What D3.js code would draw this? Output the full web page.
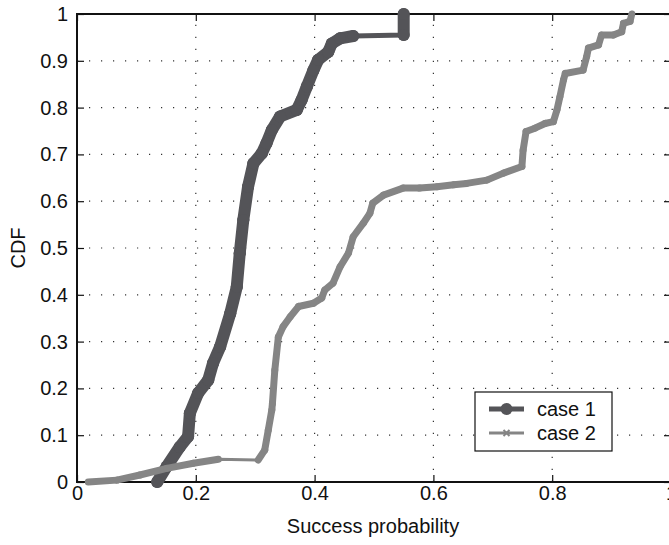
<!DOCTYPE html>
<html>
<head>
<meta charset="utf-8">
<script src="https://cdn.jsdelivr.net/npm/d3@7"></script>
<style>
  body { margin: 0; background: #fff; }
  svg text { font-family: "Liberation Sans", Arial, Helvetica, sans-serif; }
</style>
</head>
<body>
<div id="chart"></div>
<script>
// series values
let case1X = [0.135, 0.151, 0.173, 0.187, 0.190, 0.204, 0.221, 0.229, 0.241, 0.258,
  0.269, 0.274, 0.280, 0.288, 0.297, 0.311, 0.319, 0.328, 0.342, 0.370,
  0.378, 0.387, 0.398, 0.406, 0.423, 0.429, 0.443, 0.465, 0.550, 0.550];
let case1Y = [0.000, 0.033, 0.075, 0.097, 0.147, 0.190, 0.218, 0.254, 0.289, 0.360,
  0.417, 0.489, 0.560, 0.631, 0.681, 0.702, 0.724, 0.752, 0.781, 0.795,
  0.816, 0.845, 0.880, 0.902, 0.919, 0.937, 0.948, 0.953, 0.955, 1.000];

let case2X = [0.019, 0.067, 0.106, 0.151, 0.196, 0.238, 0.305, 0.316, 0.322, 0.328,
  0.329, 0.333, 0.339, 0.347, 0.359, 0.373, 0.398, 0.412, 0.417, 0.431,
  0.443, 0.457, 0.465, 0.482, 0.493, 0.498, 0.516, 0.549, 0.577, 0.606,
  0.634, 0.656, 0.690, 0.718, 0.749, 0.751, 0.756, 0.771, 0.788, 0.802,
  0.808, 0.813, 0.819, 0.822, 0.852, 0.858, 0.861, 0.878, 0.883, 0.903,
  0.917, 0.920, 0.931, 0.934];
let case2Y = [0.000, 0.004, 0.015, 0.029, 0.040, 0.0485, 0.047, 0.068, 0.111, 0.154,
  0.168, 0.239, 0.310, 0.332, 0.353, 0.375, 0.382, 0.393, 0.410, 0.425,
  0.460, 0.489, 0.524, 0.553, 0.574, 0.596, 0.613, 0.628, 0.628, 0.631,
  0.635, 0.638, 0.645, 0.660, 0.674, 0.709, 0.749, 0.756, 0.766, 0.770,
  0.795, 0.823, 0.859, 0.873, 0.880, 0.909, 0.927, 0.934, 0.955, 0.955,
  0.962, 0.980, 0.984, 1.000];

let xTicks = [0, 0.2, 0.4, 0.6, 0.8, 1];
let yTicks = [0, 0.1, 0.2, 0.3, 0.4, 0.5, 0.6, 0.7, 0.8, 0.9, 1];
let seriesNames = ["case 1", "case 2"];

((() => {

  let width = 669;
  let height = 545;
  let margin = {top: 14, left: 77, plotW: 594, plotH: 468};

  let svg = d3.select("#chart")
    .append("svg")
    .attr("width", width)
    .attr("height", height);

  let x = d3.scaleLinear().domain([0, 1]).range([margin.left, margin.left + margin.plotW]);
  let y = d3.scaleLinear().domain([0, 1]).range([margin.top + margin.plotH, margin.top]);

  // dotted grid
  let grid = svg.append("g").attr("class", "grid");
  grid.selectAll("line.gx")
    .data(xTicks.slice(1, -1))
    .enter().append("line")
    .attr("x1", d => x(d)).attr("x2", d => x(d))
    .attr("y1", y(0)).attr("y2", y(1))
    .attr("stroke", "#333").attr("stroke-width", 1.2)
    .attr("stroke-dasharray", "1.2,10.8");
  grid.selectAll("line.gy")
    .data(yTicks.slice(1, -1))
    .enter().append("line")
    .attr("x1", x(0)).attr("x2", x(1))
    .attr("y1", d => y(d)).attr("y2", d => y(d))
    .attr("stroke", "#333").attr("stroke-width", 1.2)
    .attr("stroke-dasharray", "1.2,10.8");

  // axes, ticks pointing inwards
  let fmt = d => d === 0 || d === 1 ? String(d) : d3.format(".1f")(d);

  let styleAxis = g => {
    g.select(".domain").remove();
    g.selectAll(".tick line").attr("stroke", "#111").attr("stroke-width", 1.2);
    g.selectAll("text").attr("font-size", "20px").attr("fill", "#111");
  };

  svg.append("g")
    .attr("transform", `translate(0,${y(0)})`)
    .call(d3.axisBottom(x).tickValues(xTicks).tickFormat(fmt).tickSizeInner(-7).tickSizeOuter(0).tickPadding(4))
    .call(styleAxis);
  svg.append("g")
    .attr("transform", `translate(${x(0)},0)`)
    .call(d3.axisLeft(y).tickValues(yTicks).tickFormat(fmt).tickSizeInner(-7).tickSizeOuter(0).tickPadding(9))
    .call(styleAxis);
  svg.append("g")
    .attr("transform", `translate(0,${y(1)})`)
    .call(d3.axisTop(x).tickValues(xTicks).tickFormat("").tickSizeInner(-7).tickSizeOuter(0))
    .call(styleAxis);
  svg.append("g")
    .attr("transform", `translate(${x(1)},0)`)
    .call(d3.axisRight(y).tickValues(yTicks).tickFormat("").tickSizeInner(-7).tickSizeOuter(0))
    .call(styleAxis);

  svg.append("rect")
    .attr("x", x(0)).attr("y", y(1))
    .attr("width", x(1) - x(0)).attr("height", y(0) - y(1))
    .attr("fill", "none").attr("stroke", "#111").attr("stroke-width", 2);

  // the two curves
  let series = [
    {name: seriesNames[0], xs: case1X, ys: case1Y, color: "#545458", thin: 5, thick: 12},
    {name: seriesNames[1], xs: case2X, ys: case2Y, color: "#858585", thin: 3, thick: 7}
  ];

  let line = d3.line().x(d => x(d[0])).y(d => y(d[1]));

  series.forEach(s => {
    let pts = s.xs.map((v, i) => [v, s.ys[i]]);
    let g = svg.append("g").attr("class", "series");

    g.append("path")
      .datum(pts)
      .attr("d", line)
      .attr("fill", "none")
      .attr("stroke", s.color)
      .attr("stroke-width", s.thin)
      .attr("stroke-linejoin", "round");

    // markers sit close together, so the curve shows as a thick band
    let pairs = d3.pairs(pts).filter(p => Math.abs(p[1][0] - p[0][0]) < 0.06);
    g.selectAll("line.band")
      .data(pairs)
      .enter().append("line")
      .attr("x1", d => x(d[0][0])).attr("y1", d => y(d[0][1]))
      .attr("x2", d => x(d[1][0])).attr("y2", d => y(d[1][1]))
      .attr("stroke", s.color)
      .attr("stroke-width", s.thick)
      .attr("stroke-linecap", "round");
  });

  svg.select(".series").selectAll("circle")
    .data(case1X.map((v, i) => [v, case1Y[i]]))
    .enter().append("circle")
    .attr("cx", d => x(d[0])).attr("cy", d => y(d[1]))
    .attr("r", 6).attr("fill", series[0].color);

  // axis titles
  svg.append("text")
    .attr("x", (x(0) + x(1)) / 2 - 1)
    .attr("y", 533)
    .attr("text-anchor", "middle")
    .attr("font-size", "20px").attr("fill", "#111")
    .text("Success probability");
  svg.append("text")
    .attr("transform", `translate(25,${(y(0) + y(1)) / 2}) rotate(-90)`)
    .attr("text-anchor", "middle")
    .attr("font-size", "20px").attr("fill", "#111")
    .text("CDF");

  // legend
  let legend = svg.append("g")
    .attr("class", "legend")
    .attr("transform", "translate(475,392)");
  legend.append("rect")
    .attr("width", 137).attr("height", 59)
    .attr("fill", "#fff").attr("stroke", "#111").attr("stroke-width", 1.2);

  let rows = legend.selectAll("g.row")
    .data(series)
    .enter().append("g")
    .attr("transform", (d, i) => `translate(0,${17 + i * 24})`);
  rows.append("line")
    .attr("x1", 14).attr("x2", 49)
    .attr("stroke", d => d.color)
    .attr("stroke-width", d => d.thin);
  rows.append("text")
    .attr("x", 62).attr("y", 7)
    .attr("font-size", "20px").attr("fill", "#111")
    .text(d => d.name);
  rows.filter((d, i) => i === 0).append("circle")
    .attr("cx", 31.5).attr("r", 6).attr("fill", series[0].color);
  rows.filter((d, i) => i === 1).append("path")
    .attr("d", "M28.5,-3L34.5,3M28.5,3L34.5,-3")
    .attr("stroke", series[1].color).attr("stroke-width", 2);

})());
</script>
</body>
</html>
